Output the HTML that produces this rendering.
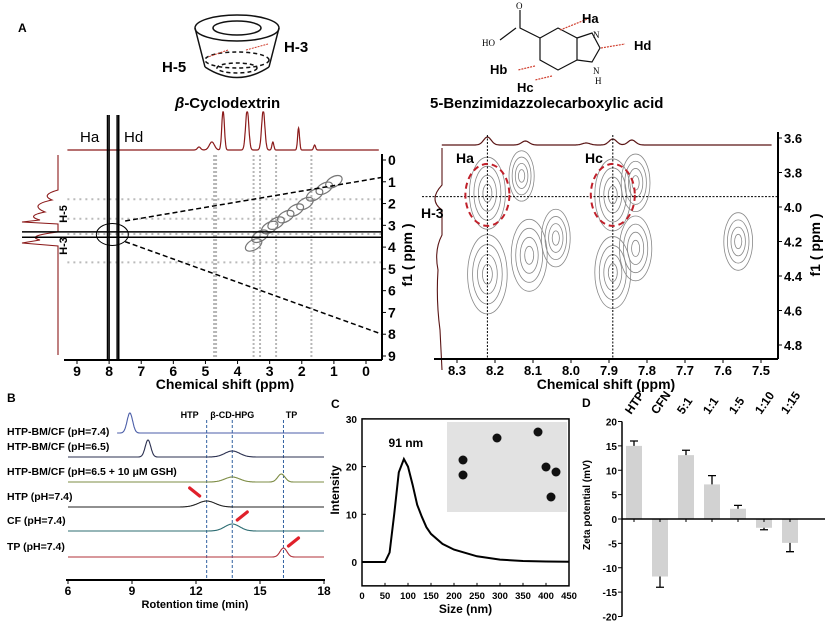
<!DOCTYPE html>
<html><head><meta charset="utf-8"><style>
body{margin:0;background:#fff;}
svg{display:block;font-family:"Liberation Sans",Arial,sans-serif;}
.b{font-weight:bold}
</style></head><body>
<svg id="fig" width="825" height="625" viewBox="0 0 825 625">
<text x="18" y="32" class="b" font-size="12">A</text>
<g fill="none" stroke="#111" stroke-width="1.5">
<ellipse cx="237" cy="28" rx="42" ry="13"/><ellipse cx="237" cy="28" rx="24" ry="7"/>
<path d="M195 28 L205 67 M279 28 L269 67"/><path d="M205 67 Q237 88 269 67"/>
<ellipse cx="237" cy="60" rx="32" ry="8" stroke-dasharray="4 3"/><ellipse cx="237" cy="68" rx="20" ry="5" stroke-dasharray="4 3"/>
<path d="M228 50 L208 57 M246 50 L268 44" stroke="#d04030" stroke-width="1" stroke-dasharray="2 1"/>
</g>
<text x="284" y="52" class="b" font-size="15">H-3</text>
<text x="162" y="72" class="b" font-size="15">H-5</text>
<text x="175" y="108" class="b" font-size="15"><tspan font-style="italic">β</tspan>-Cyclodextrin</text>
<g fill="none" stroke="#111" stroke-width="1.2">
<path d="M540 38 L558 28 L577 38 L577 60 L558 70 L540 60 Z"/><path d="M577 38 L592 33 L600 48 L592 62 L577 60"/>
<path d="M540 38 L520 28 L520 10 M516 28 L500 40"/>
<path d="M560 30 L590 18 M601 48 L625 44 M535 66 L518 70 M552 76 L535 80" stroke="#d04030" stroke-dasharray="2 1"/>
</g>
<g font-family="Liberation Serif,serif" font-size="9">
<text x="516" y="9">O</text><text x="482" y="46">HO</text><text x="593" y="38">N</text><text x="593" y="74">N</text><text x="595" y="84">H</text></g>
<text x="582" y="23" class="b" font-size="13">Ha</text>
<text x="634" y="50" class="b" font-size="13">Hd</text>
<text x="490" y="74" class="b" font-size="13">Hb</text>
<text x="517" y="92" class="b" font-size="13">Hc</text>
<text x="430" y="108" class="b" font-size="15">5-Benzimidazzolecarboxylic acid</text>

<g id="nmr1"></g>
<g id="nmr2"></g>
<g id="pb"></g>
<g id="pc"></g>
<g id="pd"></g>
</svg>
<script>
// ---- data ----
const nmr1XTicks=[9,8,7,6,5,4,3,2,1,0];
const nmr1YTicks=[0,1,2,3,4,5,6,7,8,9];
const nmr1Streaks=[4.7,3.5,3.3,2.8,1.7];
const nmr1HStreaks=[3.4,4.7,2.7,1.8];
const nmr1DiagX=[3.5,3.3,3.0,2.8,2.5,2.2,1.9,1.6,1.3,1.0];
const nmr1DiagY=[3.9,3.5,3.1,2.9,2.6,2.3,2.0,1.6,1.3,1.0];
const top1Peaks=[[4.8,8,0.08],[4.45,40,0.04],[3.7,40,0.05],[3.2,40,0.05],[2.9,8,0.03],[2.1,22,0.03],[1.6,5,0.03],[5.2,3,0.05]];
const nmr2XTicks=[8.3,8.2,8.1,8.0,7.9,7.8,7.7,7.6,7.5];
const nmr2YTicks=[3.6,3.8,4.0,4.2,4.4,4.6,4.8];
const nmr2BlobX=[8.22,8.13,7.89,7.83,8.22,8.11,8.04,7.89,7.83,7.56];
const nmr2BlobY=[3.92,3.82,3.93,3.86,4.39,4.28,4.18,4.38,4.24,4.2];
const nmr2BlobS=[1,0.7,1,0.8,1.1,1,0.8,1,0.9,0.8];
const top2Peaks=[[8.22,8,0.01],[8.12,4,0.01],[7.89,6,0.01],[7.84,5,0.01],[7.96,2,0.01]];
const hplcLabels=["HTP-BM/CF (pH=7.4)","HTP-BM/CF (pH=6.5)","HTP-BM/CF (pH=6.5 + 10 μM GSH)","HTP (pH=7.4)","CF (pH=7.4)","TP (pH=7.4)"];
const hplcColors=["#4b5ea8","#2b3050","#7d8c45","#222222","#2c6c72","#b0303a"];
const hplcStart=[8.3,6,6,6,6,6];
const hplcPeaks=[[[8.9,20,0.13]],[[9.75,17,0.13],[13.7,6,0.35]],[[13.7,5,0.35],[16.0,8,0.17]],[[12.5,6,0.4]],[[13.7,7,0.35]],[[16.1,9,0.16]]];
const hplcRefLines=[12.5,13.7,16.1];
const hplcRefNames=["HTP","β-CD-HPG","TP"];
const hplcXTicks=[6,9,12,15,18];
const dlsSize=[0,50,60,70,80,91,100,110,120,130,140,150,175,200,250,300,350,400,450];
const dlsInt=[0,0,2,10,18.8,21.6,20,16.2,12,9.5,7.3,5.9,3.8,2.6,1.2,0.5,0.2,0.1,0.05];
const dlsXTicks=[0,50,100,150,200,250,300,350,400,450];
const dlsYTicks=[0,10,20,30];
const zetaCats=["HTP","CFN","5:1","1:1","1:5","1:10","1:15"];
const zetaVals=[15,-11.8,13.1,7.1,2.1,-1.8,-4.9];
const zetaErr=[1,2.2,1,1.8,0.7,0.4,1.8];
const zetaYTicks=[20,15,10,5,0,-5,-10,-15,-20];

const NS="http://www.w3.org/2000/svg";
function mk(p,tag,at,txt){const e=document.createElementNS(NS,tag);for(const k in at)e.setAttribute(k,at[k]);if(txt!==undefined)e.textContent=txt;p.appendChild(e);return e;}
function gauss(x,pk){let s=0;for(const [c,h,w] of pk)s+=h*Math.exp(-((x-c)*(x-c))/(2*w*w));return s;}

// ---- NMR 1 ----
(function(){
const g=document.getElementById('nmr1');
const X=v=>366+(v-0)*(77-366)/9, Y=v=>160+v*(356-160)/9;
nmr1Streaks.forEach(v=>{const e=mk(g,'line',{x1:X(v),x2:X(v),y1:155,y2:358,stroke:'#999','stroke-width':v==4.7?4:2,'stroke-dasharray':'2 2',opacity:0.7});
});
nmr1HStreaks.forEach(v=>{const e=mk(g,'line',{x1:X(9.3),x2:382,y1:Y(v),y2:Y(v),stroke:'#aaa','stroke-width':2,'stroke-dasharray':'2 4',opacity:0.8});
});
nmr1DiagX.forEach((v,i)=>{const e=mk(g,'ellipse',{cx:X(v),cy:Y(nmr1DiagY[i]),rx:9,ry:5,fill:'none',stroke:'#777','stroke-width':1.2,transform:`rotate(-30 ${X(v)} ${Y(nmr1DiagY[i])})`});
});
let d='';for(let p=9.3;p>=-0.4;p-=0.01){const y=150-Math.min(gauss(p,top1Peaks),38);d+=(d?'L':'M')+X(p).toFixed(1)+' '+y.toFixed(1);}
let e=mk(g,'path',{d,fill:'none',stroke:'#8b1a1a','stroke-width':1.2});
e=mk(g,'path',{d:'M58 155 L58 190 Q40 195 52 200 Q28 205 45 212 Q25 216 40 220 L22 222 L58 224 L58 232 Q25 236 40 240 L22 243 L58 246 L58 355',fill:'none',stroke:'#8b1a1a','stroke-width':1.1});

[8.05,8.0,7.75,7.7].forEach(v=>{const l=mk(g,'line',{x1:X(v),x2:X(v),y1:115,y2:360,stroke:'#000','stroke-width':1.5});});
[3.3,3.55].forEach(v=>{const l=mk(g,'line',{x1:22,x2:382,y1:Y(v),y2:Y(v),stroke:'#000','stroke-width':1.5});});
e=mk(g,'ellipse',{cx:X(7.9),cy:Y(3.42),rx:16,ry:11,fill:'none',stroke:'#000','stroke-width':1});
e=mk(g,'line',{x1:X(7.5),y1:Y(2.8),x2:382,y2:Y(0.8),stroke:'#000','stroke-width':1.5,'stroke-dasharray':'5 3'});
e=mk(g,'line',{x1:X(7.5),y1:Y(3.75),x2:382,y2:Y(8.0),stroke:'#000','stroke-width':1.5,'stroke-dasharray':'5 3'});
e=mk(g,'line',{x1:64,x2:382,y1:360,y2:360,stroke:'#000','stroke-width':2});
e=mk(g,'line',{x1:382,x2:382,y1:154,y2:360,stroke:'#000','stroke-width':2});
nmr1XTicks.forEach(v=>{const t=mk(g,'text',{x:X(v),y:376,'text-anchor':'middle','font-size':14,'font-weight':'bold'},v);
mk(g,'line',{x1:X(v),x2:X(v),y1:360,y2:364,stroke:'#000'});});
nmr1YTicks.forEach(v=>{const t=mk(g,'text',{x:388,y:Y(v)+5,'font-size':14,'font-weight':'bold'},v);
mk(g,'line',{x1:382,x2:386,y1:Y(v),y2:Y(v),stroke:'#000'});});
e=mk(g,'text',{x:225,y:389,'text-anchor':'middle','font-size':14,'font-weight':'bold'},'Chemical shift  (ppm)');
e=mk(g,'text',{x:412,y:255,'text-anchor':'middle','font-size':14,'font-weight':'bold',transform:'rotate(-90 412 255)'},'f1 ( ppm )');
e=mk(g,'text',{x:80,y:142,'font-size':15},'Ha');
e=mk(g,'text',{x:124,y:142,'font-size':15},'Hd');
e=mk(g,'text',{x:67,y:214,'font-size':11,'font-weight':'bold',transform:'rotate(-90 67 214)','text-anchor':'middle'},'H-5');
e=mk(g,'text',{x:67,y:246,'font-size':11,'font-weight':'bold',transform:'rotate(-90 67 246)','text-anchor':'middle'},'H-3');
})();

// ---- NMR 2 ----
(function(){
const g=document.getElementById('nmr2');
const X=v=>457+(8.3-v)*380, Y=v=>138+(v-3.6)*172.5;
nmr2BlobX.forEach((v,i)=>{const s=nmr2BlobS[i];for(let k=4;k>=1;k--){const e=mk(g,'ellipse',{cx:X(v),cy:Y(nmr2BlobY[i]),rx:k*4.5*s,ry:k*9*s,fill:'none',stroke:'#888','stroke-width':0.8});
}});
let d='';for(let p=8.34;p>=7.47;p-=0.002){d+=(d?'L':'M')+X(p).toFixed(1)+' '+(145-gauss(p,top2Peaks)).toFixed(1);}
let e=mk(g,'path',{d,fill:'none',stroke:'#5a1515','stroke-width':1.2});
e=mk(g,'path',{d:'M442 148 L442 185 Q428 200 442 210 L442 235 Q434 250 438 270 Q436 300 440 330 L442 370',fill:'none',stroke:'#5a1515','stroke-width':1.1});

[8.22,7.89].forEach(v=>{const l=mk(g,'line',{x1:X(v),x2:X(v),y1:135,y2:359,stroke:'#000','stroke-width':1,'stroke-dasharray':'2 1.5'});});
e=mk(g,'line',{x1:422,x2:778,y1:Y(3.94),y2:Y(3.94),stroke:'#000','stroke-width':1,'stroke-dasharray':'2 1.5'});
[8.22,7.89].forEach(v=>{const l=mk(g,'ellipse',{cx:X(v),cy:Y(3.93),rx:22,ry:31,fill:'none',stroke:'#c0202a','stroke-width':2,'stroke-dasharray':'6 4'});});
e=mk(g,'line',{x1:434,x2:778,y1:359,y2:359,stroke:'#000','stroke-width':2});
e=mk(g,'line',{x1:778,x2:778,y1:132,y2:359,stroke:'#000','stroke-width':2});
nmr2XTicks.forEach(v=>{const t=mk(g,'text',{x:X(v),y:375,'text-anchor':'middle','font-size':13,'font-weight':'bold'},v.toFixed(1));
mk(g,'line',{x1:X(v),x2:X(v),y1:359,y2:363,stroke:'#000'});});
nmr2YTicks.forEach(v=>{const t=mk(g,'text',{x:784,y:Y(v)+5,'font-size':13,'font-weight':'bold'},v.toFixed(1));
mk(g,'line',{x1:778,x2:782,y1:Y(v),y2:Y(v),stroke:'#000'});});
e=mk(g,'text',{x:606,y:389,'text-anchor':'middle','font-size':14,'font-weight':'bold'},'Chemical shift  (ppm)');
e=mk(g,'text',{x:820,y:245,'text-anchor':'middle','font-size':14,'font-weight':'bold',transform:'rotate(-90 820 245)'},'f1 ( ppm )');
e=mk(g,'text',{x:456,y:163,'font-size':14,'font-weight':'bold'},'Ha');
e=mk(g,'text',{x:585,y:163,'font-size':14,'font-weight':'bold'},'Hc');
e=mk(g,'text',{x:421,y:218,'font-size':14,'font-weight':'bold'},'H-3');
})();

// ---- Panel B ----
(function(){
const g=document.getElementById('pb');
const X=v=>68+(v-6)*(324-68)/12;
const base=[433,457,482,507,531,557];
let e=mk(g,'text',{x:7,y:402,'font-size':12,'font-weight':'bold'},'B');
hplcRefLines.forEach((v,i)=>{const l=mk(g,'line',{x1:X(v),x2:X(v),y1:420,y2:580,stroke:'#3060a0','stroke-width':1,'stroke-dasharray':'3 2'});
const t=mk(g,'text',{x:X(v)+(i==0?-17:i==1?0:8),y:418,'text-anchor':'middle','font-size':9,'font-weight':'bold'},hplcRefNames[i]);});
hplcLabels.forEach((lab,i)=>{const t=mk(g,'text',{x:7,y:base[i]-(i==0?-2:7),'font-size':10.5,'font-weight':'bold'},lab);
let d='';for(let v=hplcStart[i];v<=18;v+=0.02){d+=(d?'L':'M')+X(v).toFixed(1)+' '+(base[i]-gauss(v,hplcPeaks[i])).toFixed(1);}
const p=mk(g,'path',{d,fill:'none',stroke:hplcColors[i],'stroke-width':1.1});});
// arrows
const arrows=[[12.5,3,-1],[13.7,4,1],[16.1,5,1]];
arrows.forEach(([v,i,dir])=>{const tx=X(v)+dir*3-(dir<0?4:-2),ty=base[i]-11;const sx=tx+dir*10,sy=ty-8;
const a=mk(g,'path',{d:`M${sx} ${sy} L${tx} ${ty}`,stroke:'#e0202a','stroke-width':3.2,fill:'none','stroke-linecap':'round'});
});
e=mk(g,'line',{x1:66,x2:325,y1:580,y2:580,stroke:'#000','stroke-width':2});
hplcXTicks.forEach(v=>{const t=mk(g,'text',{x:X(v),y:595,'text-anchor':'middle','font-size':12,'font-weight':'bold'},v);mk(g,'line',{x1:X(v),x2:X(v),y1:580,y2:584,stroke:'#000'});});
e=mk(g,'text',{x:195,y:608,'text-anchor':'middle','font-size':11,'font-weight':'bold'},'Rotention time (min)');
})();

// ---- Panel C ----
(function(){
const g=document.getElementById('pc');
const X=v=>362+v*(569-362)/450, Y=v=>562-v*4.77;
let e=mk(g,'text',{x:331,y:408,'font-size':12,'font-weight':'bold'},'C');
e=mk(g,'rect',{x:447,y:422,width:120,height:90,fill:'#e2e2e2'});
[[497,438],[538,432],[463,460],[463,475],[546,467],[556,472],[551,497]].forEach(([x,y])=>{const c=mk(g,'circle',{cx:x,cy:y,r:4.5,fill:'#111'});});
e=mk(g,'rect',{x:362,y:Y(30),width:207,height:Y(-5)-Y(30),fill:'none',stroke:'#000','stroke-width':1.5});
let d=dlsSize.map((s,i)=>(i?'L':'M')+X(s).toFixed(1)+' '+Y(dlsInt[i]).toFixed(1)).join(' ');
e=mk(g,'path',{d,fill:'none',stroke:'#000','stroke-width':2});
e=mk(g,'text',{x:X(91)+2,y:Y(21.6)-12,'text-anchor':'middle','font-size':12,'font-weight':'bold'},'91 nm');
dlsXTicks.forEach(v=>{const t=mk(g,'text',{x:X(v),y:599,'text-anchor':'middle','font-size':9.5,'font-weight':'bold'},v);mk(g,'line',{x1:X(v),x2:X(v),y1:Y(-5),y2:Y(-5)-3,stroke:'#000'});});
dlsYTicks.forEach(v=>{const t=mk(g,'text',{x:357,y:Y(v)+4,'text-anchor':'end','font-size':10,'font-weight':'bold'},v);mk(g,'line',{x1:362,x2:366,y1:Y(v),y2:Y(v),stroke:'#000'});});
e=mk(g,'text',{x:X(225),y:613,'text-anchor':'middle','font-size':12,'font-weight':'bold'},'Size (nm)');
e=mk(g,'text',{x:339,y:490,'text-anchor':'middle','font-size':12,'font-weight':'bold',transform:'rotate(-90 339 490)'},'Intensity');
})();

// ---- Panel D ----
(function(){
const g=document.getElementById('pd');
const Y=v=>519-v*4.875, X=i=>634+i*26;
let e=mk(g,'text',{x:582,y:407,'font-size':12,'font-weight':'bold'},'D');
zetaVals.forEach((v,i)=>{const b=mk(g,'rect',{x:X(i)-8,y:Math.min(Y(v),Y(0)),width:16,height:Math.abs(Y(v)-Y(0)),fill:'#d2d2d2'});
const s=v>=0?1:-1,ye=Y(v+s*zetaErr[i]);const eb=mk(g,'path',{d:`M${X(i)} ${Y(v)} L${X(i)} ${ye} M${X(i)-4} ${ye} L${X(i)+4} ${ye}`,stroke:'#000','stroke-width':1.3,fill:'none'});
const t=mk(g,'text',{x:X(i)-3,y:415,'font-size':12,'font-weight':'bold',transform:`rotate(-55 ${X(i)-3} 415)`},zetaCats[i]);
mk(g,'line',{x1:X(i),x2:X(i),y1:Y(0),y2:Y(0)+3,stroke:'#000'});});
e=mk(g,'line',{x1:622,x2:825,y1:Y(0),y2:Y(0),stroke:'#000','stroke-width':1.5});
e=mk(g,'line',{x1:622,x2:622,y1:Y(20),y2:Y(-20),stroke:'#000','stroke-width':1.5});
zetaYTicks.forEach(v=>{const t=mk(g,'text',{x:617,y:Y(v)+4,'text-anchor':'end','font-size':10,'font-weight':'bold'},v);mk(g,'line',{x1:618,x2:622,y1:Y(v),y2:Y(v),stroke:'#000'});});
e=mk(g,'text',{x:590,y:505,'text-anchor':'middle','font-size':10,'font-weight':'bold',transform:'rotate(-90 590 505)'},'Zeta potential  (mV)');
})();
</script>
</body></html>
